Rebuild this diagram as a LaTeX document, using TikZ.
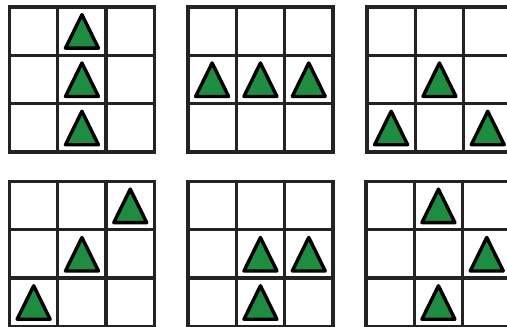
\documentclass[tikz,border=0pt]{standalone}
\definecolor{tgreen}{RGB}{30,140,65}
\definecolor{gline}{RGB}{35,35,35}
\begin{document}
\begin{tikzpicture}[x=1pt,y=-1pt,
  gridline/.style={line width=3.3pt, draw=gline, line cap=rect},
  tristyle/.style={fill=tgreen, draw=black, line width=3.4pt, line join=round},
  tri/.pic={\draw[tristyle] (0,-17) -- (16.5,16.5) -- (-16.5,16.5) -- cycle;}]
\useasboundingbox (0,0) rectangle (507,327);
\clip (0,0) rectangle (507,327);
\fill[white] (0,0) rectangle (507,327);
\def\c{48.3}
\foreach \gx/\gy/\cells in {
  9.5/7/{1/0,1/1,1/2},
  188/7/{0/1,1/1,2/1},
  367/7/{1/1,0/2,2/2},
  9.5/181.5/{2/0,1/1,0/2},
  188/181.5/{1/1,2/1,1/2},
  366/181.5/{1/0,2/1,1/2}} {
  \begin{scope}[shift={(\gx,\gy)}]
    \foreach \i in {0,1,2,3} {
      \draw[gridline] (\i*\c,0) -- (\i*\c,3*\c);
      \draw[gridline] (0,\i*\c) -- (3*\c,\i*\c);
    }
    \foreach \col/\row in \cells {
      \pic at ({(\col+0.5)*\c},{(\row+0.5)*\c+0.5}) {tri};
    }
  \end{scope}
}
\end{tikzpicture}
\end{document}
